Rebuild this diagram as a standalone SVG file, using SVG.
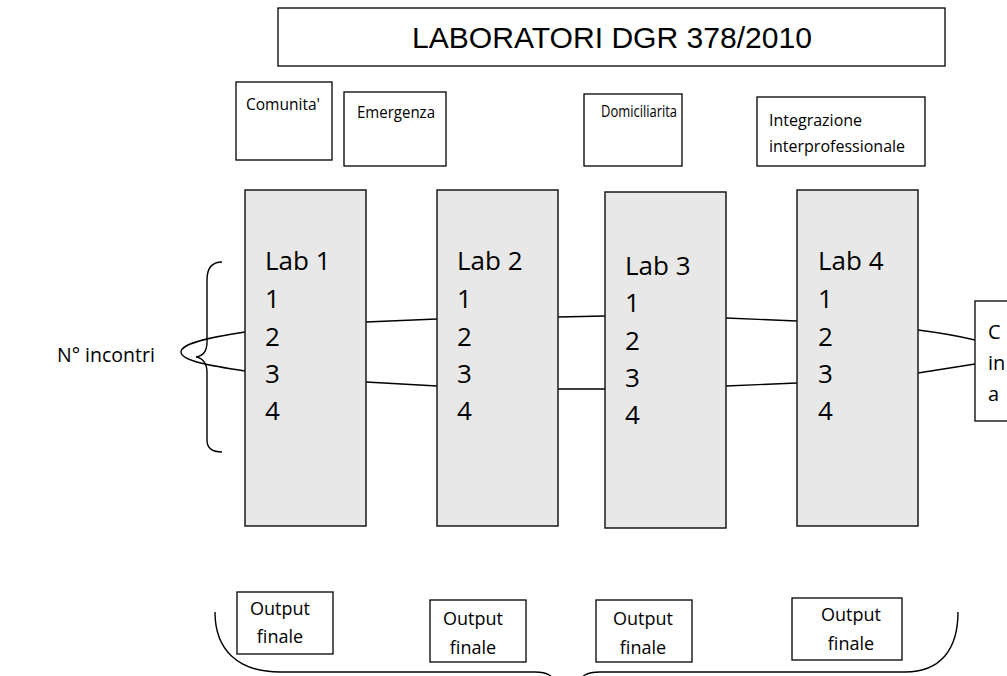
<svg xmlns="http://www.w3.org/2000/svg" width="1007" height="676" viewBox="0 0 1007 676">
<style>
.box{fill:#ffffff;stroke:#000000;stroke-width:1.3}
.lab{fill:#e8e8e8;stroke:#1a1a1a;stroke-width:1.5}
.t{font-family:"Open Sans","Liberation Sans",sans-serif;fill:#000000}
.cat{font-size:16px}
.labt{font-size:26px}
.out{font-size:18px}
.ln{fill:none;stroke:#000000;stroke-width:1.4}
</style>
<rect width="1007" height="676" fill="#ffffff"/>
<g id="title">
<rect class="box" x="278" y="8" width="667" height="58"/>
<text x="612" y="48" text-anchor="middle" font-family="Liberation Sans, sans-serif" font-size="29" textLength="400" lengthAdjust="spacingAndGlyphs">LABORATORI DGR 378/2010</text>
</g>
<g id="cat-comunita">
<rect class="box" x="236" y="82" width="96" height="78"/>
<text class="t cat" x="246" y="110" textLength="74" lengthAdjust="spacingAndGlyphs">Comunita'</text>
</g>
<g id="cat-emergenza">
<rect class="box" x="344" y="92" width="102" height="74"/>
<text class="t cat" x="357" y="118" textLength="78" lengthAdjust="spacingAndGlyphs">Emergenza</text>
</g>
<g id="cat-domiciliarita">
<rect class="box" x="584" y="94" width="98" height="72"/>
<text class="t cat" x="601" y="117" textLength="76" lengthAdjust="spacingAndGlyphs">Domiciliarita</text>
</g>
<g id="cat-integrazione">
<rect class="box" x="757" y="97" width="168" height="69"/>
<text class="t cat" x="769" y="126">Integrazione</text>
<text class="t cat" x="769" y="152">interprofessionale</text>
</g>
<g id="connectors">
<path class="ln" d="M245,332 C212,337 181,343 181,352 C181,361 212,366 245,371"/>
<path class="ln" d="M366,322 L437,319 M366,382 L437,386"/>
<path class="ln" d="M558,317 L605,316 M558,389 L605,389"/>
<path class="ln" d="M726,318 L797,321 M726,386 L797,383"/>
<path class="ln" d="M918,330 Q950,334 975,340 M918,373 Q950,368 975,364"/>
</g>
<g id="lab1">
<rect class="lab" x="245" y="190" width="121" height="336"/>
<text class="t labt" x="265" y="270">Lab 1</text>
<text class="t labt" x="265" y="308">1</text>
<text class="t labt" x="265" y="346">2</text>
<text class="t labt" x="265" y="383">3</text>
<text class="t labt" x="265" y="420">4</text>
</g>
<g id="lab2">
<rect class="lab" x="437" y="190" width="121" height="336"/>
<text class="t labt" x="457" y="270">Lab 2</text>
<text class="t labt" x="457" y="308">1</text>
<text class="t labt" x="457" y="346">2</text>
<text class="t labt" x="457" y="383">3</text>
<text class="t labt" x="457" y="420">4</text>
</g>
<g id="lab3">
<rect class="lab" x="605" y="192" width="121" height="336"/>
<text class="t labt" x="625" y="275">Lab 3</text>
<text class="t labt" x="625" y="312">1</text>
<text class="t labt" x="625" y="350">2</text>
<text class="t labt" x="625" y="387">3</text>
<text class="t labt" x="625" y="424">4</text>
</g>
<g id="lab4">
<rect class="lab" x="797" y="190" width="121" height="336"/>
<text class="t labt" x="818" y="270">Lab 4</text>
<text class="t labt" x="818" y="308">1</text>
<text class="t labt" x="818" y="346">2</text>
<text class="t labt" x="818" y="383">3</text>
<text class="t labt" x="818" y="420">4</text>
</g>
<g id="cut-box">
<rect class="box" x="975" y="301" width="50" height="120"/>
<text class="t" font-size="20" x="988" y="339">C</text>
<text class="t" font-size="20" x="988" y="370">in</text>
<text class="t" font-size="20" x="988" y="401">a</text>
</g>
<g id="incontri">
<text class="t" font-size="19.5" x="57" y="362">N° incontri</text>
<path class="ln" d="M222,262 C211,262 207,270 207,280 L207,342 C207,351 203,356 196,357 C203,358 207,364 207,372 L207,440 C207,448 212,452 222,452"/>
</g>
<g id="out1">
<rect class="box" x="237" y="592" width="96" height="62"/>
<text class="t out" x="280" y="615" text-anchor="middle">Output</text>
<text class="t out" x="280" y="643" text-anchor="middle">finale</text>
</g>
<g id="out2">
<rect class="box" x="430" y="600" width="96" height="62"/>
<text class="t out" x="473" y="625" text-anchor="middle">Output</text>
<text class="t out" x="473" y="654" text-anchor="middle">finale</text>
</g>
<g id="out3">
<rect class="box" x="596" y="600" width="96" height="62"/>
<text class="t out" x="643" y="625" text-anchor="middle">Output</text>
<text class="t out" x="643" y="654" text-anchor="middle">finale</text>
</g>
<g id="out4">
<rect class="box" x="792" y="598" width="110" height="62" stroke-width="2"/>
<text class="t out" x="851" y="621" text-anchor="middle">Output</text>
<text class="t out" x="851" y="650" text-anchor="middle">finale</text>
</g>
<g id="bottom-brace">
<path class="ln" d="M215,612 C215,650 238,672 280,672 L535,672 C548,672 553,676 556,684"/>
<path class="ln" d="M578,684 C581,676 586,672 600,672 L905,672 C940,672 958,650 958,612"/>
</g>
</svg>
